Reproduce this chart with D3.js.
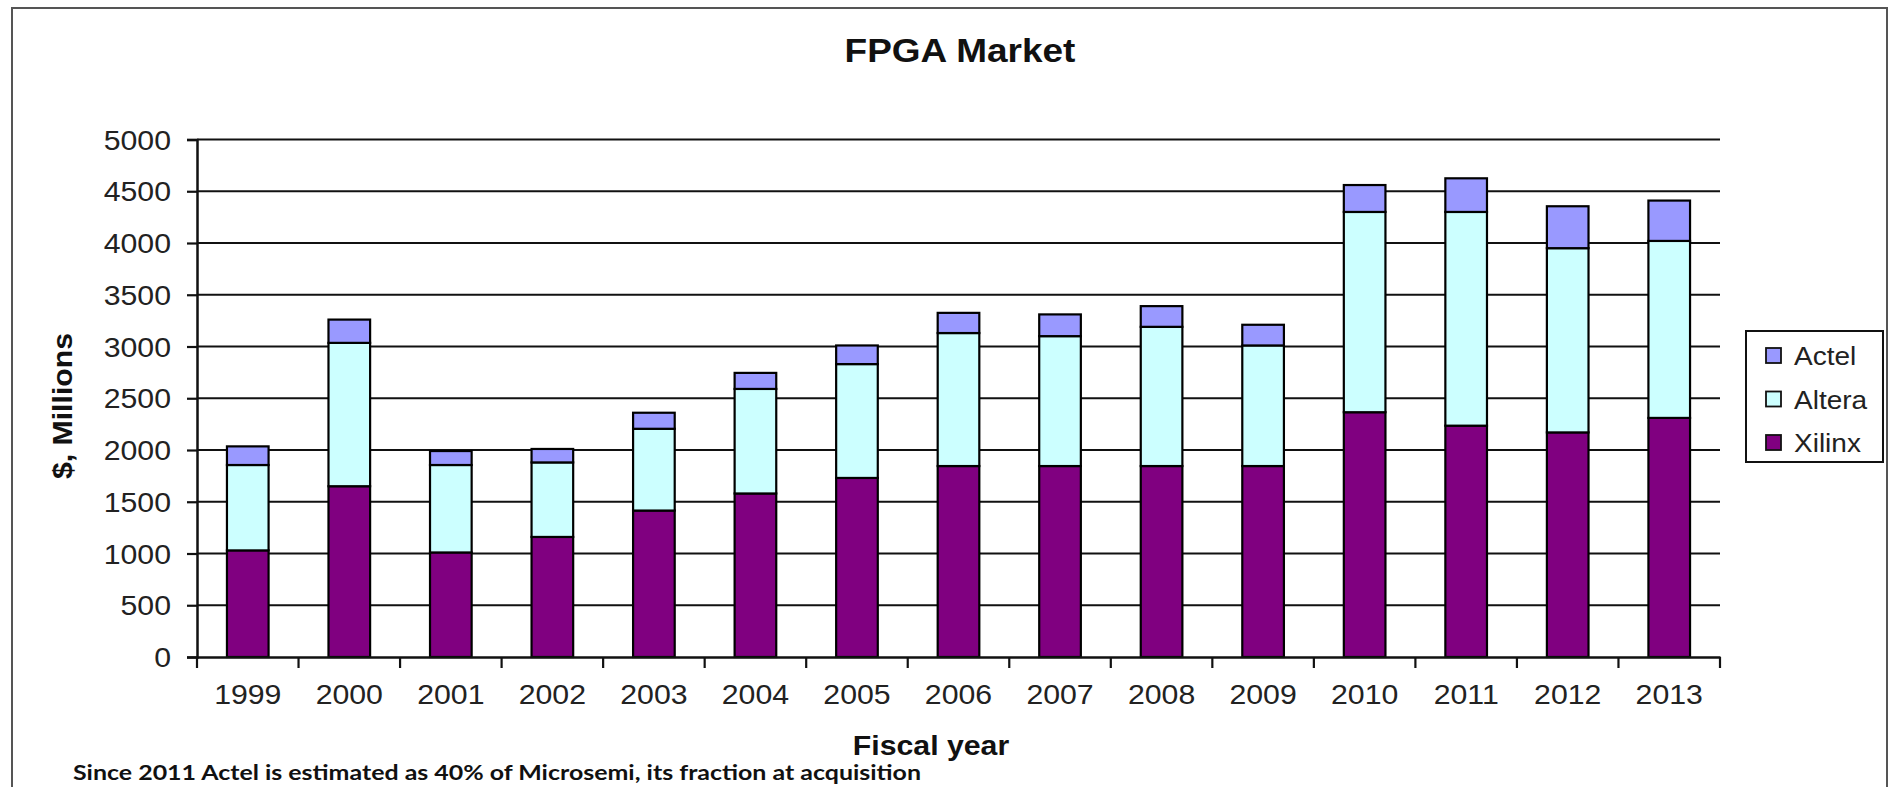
<!DOCTYPE html>
<html>
<head>
<meta charset="utf-8">
<script src="https://cdn.jsdelivr.net/npm/d3@7"></script>
<style>
  html, body { margin: 0; padding: 0; background: #fff; }
  svg { display: block; }
</style>
</head>
<body>
<svg id="chart" width="1892" height="787"></svg>
<script>
const years  = ["1999","2000","2001","2002","2003","2004","2005","2006","2007","2008","2009","2010","2011","2012","2013"];
const xilinx = [1030,1650,1010,1160,1415,1580,1730,1845,1845,1845,1845,2365,2235,2170,2310];
const altera = [825,1385,845,720,790,1010,1100,1285,1255,1345,1165,1935,2065,1780,1710];
const actel  = [180,225,135,130,155,155,180,195,210,200,200,260,325,405,390];
const seriesNames = ["Xilinx","Altera","Actel"];
const legendOrder = ["Actel","Altera","Xilinx"];
const yTicks = [0,500,1000,1500,2000,2500,3000,3500,4000,4500,5000];

(function () {
const colors = {Xilinx: "#800080", Altera: "#CCFFFF", Actel: "#9999FF"};

const svg = d3.select("#chart");
const pLeft = 197, pRight = 1720, pTop = 139.5, pBottom = 657;

// outer border
svg.append("rect").attr("x", 12).attr("y", 8).attr("width", 1875).attr("height", 820)
  .attr("fill", "none").attr("stroke", "#555").attr("stroke-width", 2);

const table = years.map((y, i) => ({year: y, Xilinx: xilinx[i], Altera: altera[i], Actel: actel[i]}));
const stack = d3.stack().keys(seriesNames)(table);

const x = d3.scaleBand().domain(years).range([pLeft, pRight]).paddingInner(0).paddingOuter(0);
const y = d3.scaleLinear().domain([0, 5000]).range([pBottom, pTop]);

// gridlines
svg.append("g").selectAll("line").data(yTicks.filter(t => t > 0)).join("line")
  .attr("x1", pLeft).attr("x2", pRight)
  .attr("y1", d => y(d)).attr("y2", d => y(d))
  .attr("stroke", "#111").attr("stroke-width", 2.2);

// bars
const bw = x.bandwidth() * 0.41;
svg.append("g").selectAll("g").data(stack).join("g")
  .attr("fill", d => colors[d.key])
  .selectAll("rect").data(d => d).join("rect")
  .attr("x", d => x(d.data.year) + (x.bandwidth() - bw) / 2)
  .attr("width", bw)
  .attr("y", d => y(d[1]))
  .attr("height", d => y(d[0]) - y(d[1]))
  .attr("stroke", "#000").attr("stroke-width", 2.2);

// y axis
const yAxis = d3.axisLeft(y).tickValues(yTicks).tickSize(10).tickPadding(16).tickFormat(d3.format("d"));
const gy = svg.append("g").attr("transform", `translate(${pLeft},0)`).call(yAxis);
gy.select(".domain").attr("stroke", "#111").attr("stroke-width", 2.5);
gy.selectAll(".tick line").attr("stroke", "#111").attr("stroke-width", 2.2);
gy.selectAll(".tick text").attr("font-family", "Liberation Sans, Arial, sans-serif")
  .attr("font-size", 27).attr("fill", "#222").attr("dy", "0.36em");

// x axis
const xAxis = d3.axisBottom(x).tickSize(0).tickPadding(0);
const gx = svg.append("g").attr("transform", `translate(0,${pBottom})`).call(xAxis);
gx.select(".domain").attr("stroke", "#111").attr("stroke-width", 2.5);
gx.selectAll(".tick text").attr("font-family", "Liberation Sans, Arial, sans-serif")
  .attr("font-size", 27).attr("fill", "#222").attr("y", 47).attr("dy", 0);
// tick marks at band boundaries
const bounds = years.map(d => x(d)).concat([pRight]);
svg.append("g").selectAll("line").data(bounds).join("line")
  .attr("x1", d => d).attr("x2", d => d).attr("y1", pBottom).attr("y2", pBottom + 11)
  .attr("stroke", "#111").attr("stroke-width", 2.2);

// title
svg.append("text").attr("x", 960).attr("y", 62).attr("text-anchor", "middle")
  .attr("font-family", "Liberation Sans, Arial, sans-serif").attr("font-weight", "bold")
  .attr("font-size", 33).attr("fill", "#111").text("FPGA Market");

// axis titles
svg.append("text").attr("transform", "translate(72,406) rotate(-90)").attr("text-anchor", "middle")
  .attr("font-family", "Liberation Sans, Arial, sans-serif").attr("font-weight", "bold")
  .attr("font-size", 27).attr("fill", "#111").text("$, Millions");

svg.append("text").attr("x", 931).attr("y", 755).attr("text-anchor", "middle")
  .attr("font-family", "Liberation Sans, Arial, sans-serif").attr("font-weight", "bold")
  .attr("font-size", 27).attr("fill", "#111").text("Fiscal year");

// footnote
svg.append("text").attr("x", 73).attr("y", 780).attr("text-anchor", "start")
  .attr("font-family", "Lato, 'Open Sans', sans-serif").attr("font-weight", "bold")
  .attr("font-size", 21).attr("fill", "#111")
  .attr("textLength", 848).attr("lengthAdjust", "spacingAndGlyphs")
  .attr("class", "fixed")
  .text("Since 2011 Actel is estimated as 40% of Microsemi, its fraction at acquisition");

// legend
const legend = svg.append("g");
legend.append("rect").attr("x", 1746).attr("y", 331).attr("width", 137).attr("height", 131)
  .attr("fill", "#fff").attr("stroke", "#111").attr("stroke-width", 2);
const ly = d3.scalePoint().domain(legendOrder).range([356, 443]);
const items = legend.selectAll("g.item").data(legendOrder).join("g").attr("class", "item");
items.append("rect").attr("x", 1766).attr("y", d => ly(d) - 8).attr("width", 15).attr("height", 15)
  .attr("fill", d => colors[d]).attr("stroke", "#111").attr("stroke-width", 1.8);
items.append("text").attr("x", 1794).attr("y", d => ly(d) + 9)
  .attr("font-family", "Liberation Sans, Arial, sans-serif").attr("font-size", 25).attr("fill", "#222")
  .text(d => d);

// horizontal stretch of text, like the reference image
svg.selectAll("text").each(function() {
  const el = d3.select(this);
  if (el.classed("fixed")) return;
  const l = this.getComputedTextLength();
  el.attr("textLength", l * 1.12).attr("lengthAdjust", "spacingAndGlyphs");
});
})();
</script>
</body>
</html>
